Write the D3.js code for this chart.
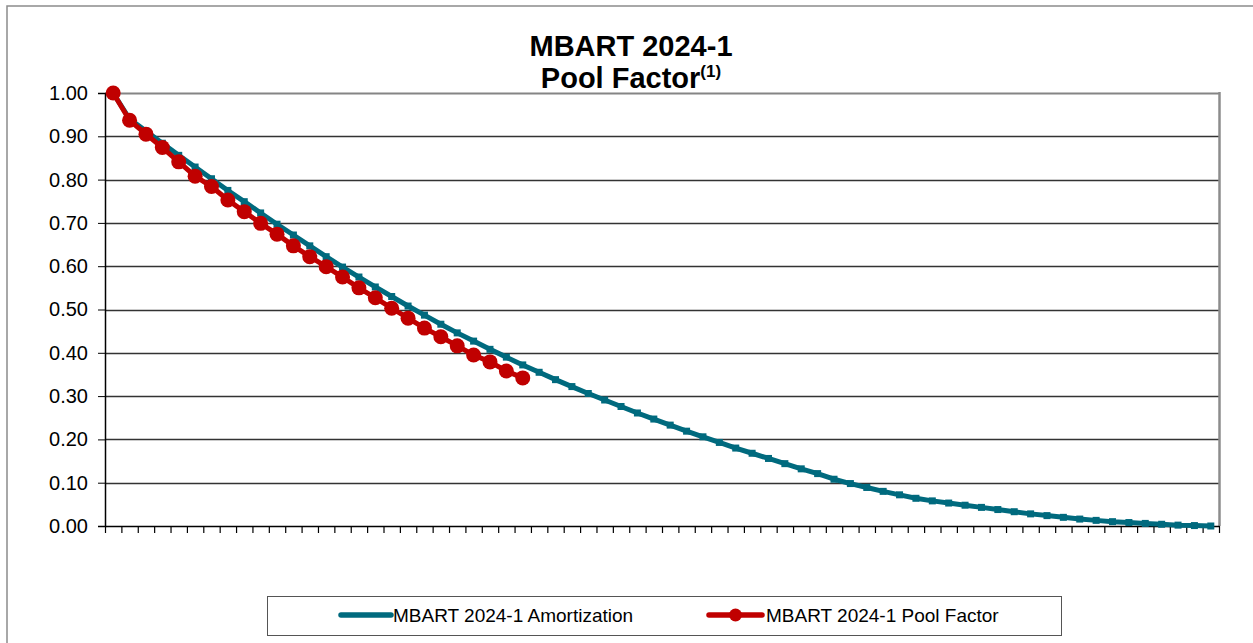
<!DOCTYPE html>
<html>
<head>
<meta charset="utf-8">
<script src="https://cdn.jsdelivr.net/npm/d3@7"></script>
<style>
  html, body { margin: 0; padding: 0; background: #fff; }
  svg { display: block; font-family: "Liberation Sans", Arial, sans-serif; }
</style>
</head>
<body>
<svg id="chart" width="1253" height="643"></svg>
<script>
// ---- data ----
const titleLine1 = "MBART 2024-1";
const titleLine2 = "Pool Factor";
const titleSup = "(1)";
const seriesNames = ["MBART 2024-1 Amortization", "MBART 2024-1 Pool Factor"];
const yTicks = [0, 0.1, 0.2, 0.3, 0.4, 0.5, 0.6, 0.7, 0.8, 0.9, 1.0];
const amortization = [
  1.000, 0.940, 0.912, 0.884, 0.856, 0.829, 0.802, 0.775, 0.749, 0.723,
  0.697, 0.672, 0.647, 0.622, 0.598, 0.575, 0.552, 0.530, 0.508, 0.487,
  0.466, 0.446, 0.427, 0.408, 0.390, 0.372, 0.355, 0.338, 0.322, 0.306,
  0.291, 0.276, 0.261, 0.247, 0.233, 0.219, 0.206, 0.193, 0.180, 0.168,
  0.156, 0.144, 0.132, 0.121, 0.108, 0.098, 0.089, 0.080, 0.072, 0.064,
  0.058, 0.053, 0.048, 0.043, 0.038, 0.033, 0.028, 0.024, 0.020, 0.016,
  0.013, 0.010, 0.008, 0.006, 0.004, 0.002, 0.001, 0.000
];
const poolFactor = [
  1.000, 0.937, 0.905, 0.874, 0.841, 0.808, 0.784, 0.753, 0.726, 0.699,
  0.674, 0.647, 0.622, 0.599, 0.575, 0.550, 0.527, 0.503, 0.480, 0.457,
  0.437, 0.416, 0.395, 0.379, 0.358, 0.342
];
const categories = d3.range(amortization.length).map(i => i + 1);

// ---- layout ----
const svg = d3.select("#chart");
const plot = { left: 105, right: 1219, top: 93, bottom: 526 };
const teal = "#006A7E";
const red = "#C00000";

// outer border
svg.append("rect").attr("x", 7).attr("y", 6).attr("width", 1260).attr("height", 660)
  .attr("fill", "none").attr("stroke", "#8c8c8c").attr("stroke-width", 1.5);

const x = d3.scaleBand().domain(categories).range([plot.left, plot.right]).padding(0);
const y = d3.scaleLinear().domain([0, 1]).range([plot.bottom, plot.top]);
const cx = i => x(categories[i]) + x.bandwidth() / 2;

// gridlines
svg.append("g").selectAll("line").data(yTicks.filter(t => t > 0)).join("line")
  .attr("x1", plot.left).attr("x2", plot.right)
  .attr("y1", d => Math.round(y(d)) + 0.5).attr("y2", d => Math.round(y(d)) + 0.5)
  .attr("stroke", "#333").attr("stroke-width", d => d === 1 ? 2 : 1.4)
  .attr("stroke-opacity", d => d === 1 ? 0.6 : 1);

// right border of plot
svg.append("line").attr("x1", plot.right + 0.5).attr("x2", plot.right + 0.5)
  .attr("y1", plot.top - 1).attr("y2", plot.bottom)
  .attr("stroke", "#8c8c8c").attr("stroke-width", 2.5);

// y axis
const yAxis = d3.axisLeft(y).tickValues(yTicks).tickFormat(d3.format(".2f")).tickSize(7).tickPadding(10);
const gy = svg.append("g").attr("transform", `translate(${plot.left},0)`).call(yAxis);
gy.select(".domain").attr("stroke", "#000").attr("stroke-width", 1.5);
gy.selectAll(".tick line").attr("stroke", "#000");
gy.selectAll(".tick text").attr("font-size", 20).attr("fill", "#000")
  .attr("font-family", "Liberation Sans, Arial, sans-serif");

// x axis (ticks between categories)
const xBoundaries = d3.range(categories.length + 1).map(i => plot.left + i * x.bandwidth());
const xEdge = d3.scaleLinear().domain([plot.left, plot.right]).range([plot.left, plot.right]);
const xAxis = d3.axisBottom(xEdge).tickValues(xBoundaries).tickFormat("").tickSize(7).tickSizeOuter(0);
const gx = svg.append("g").attr("transform", `translate(0,${plot.bottom})`).call(xAxis);
gx.select(".domain").attr("stroke", "#000").attr("stroke-width", 1.5);
gx.selectAll(".tick line").attr("stroke", "#000").attr("stroke-width", 1.2);

// amortization line
const line = d3.line().x((d, i) => cx(i)).y(d => y(d));
svg.append("path").datum(amortization).attr("d", line)
  .attr("fill", "none").attr("stroke", teal).attr("stroke-width", 5).attr("stroke-linejoin", "round");
svg.append("g").selectAll("rect").data(amortization).join("rect")
  .attr("x", (d, i) => cx(i) - 3.5).attr("y", d => y(d) - 3.5)
  .attr("width", 7).attr("height", 7).attr("fill", teal);

// pool factor line
svg.append("path").datum(poolFactor).attr("d", line)
  .attr("fill", "none").attr("stroke", red).attr("stroke-width", 5).attr("stroke-linejoin", "round");
svg.append("g").selectAll("circle").data(poolFactor).join("circle")
  .attr("cx", (d, i) => cx(i)).attr("cy", d => y(d)).attr("r", 7.5).attr("fill", red);

// title
svg.append("text").attr("text-anchor", "middle").attr("font-weight", "bold").attr("fill", "#000")
  .attr("x", 631).attr("y", 56).attr("font-size", 29).text(titleLine1);
const t2 = svg.append("text").attr("text-anchor", "middle").attr("font-weight", "bold").attr("fill", "#000")
  .attr("x", 631).attr("y", 88);
t2.append("tspan").attr("font-size", 29).text(titleLine2);
t2.append("tspan").attr("font-size", 17).attr("dy", -11).text(titleSup);

// legend
const lg = svg.append("g");
lg.append("rect").attr("x", 267.5).attr("y", 596.5).attr("width", 794).attr("height", 39)
  .attr("fill", "#fff").attr("stroke", "#555").attr("stroke-width", 1);
const legendItems = [
  { name: seriesNames[0], color: teal, x1: 341, x2: 391, marker: false, tx: 393 },
  { name: seriesNames[1], color: red, x1: 709, x2: 762, marker: true, tx: 766 }
];
legendItems.forEach(it => {
  lg.append("line").attr("x1", it.x1).attr("x2", it.x2).attr("y1", 615).attr("y2", 615)
    .attr("stroke", it.color).attr("stroke-width", 5.5).attr("stroke-linecap", "round");
  if (it.marker) lg.append("circle").attr("cx", (it.x1 + it.x2) / 2).attr("cy", 615).attr("r", 6.5).attr("fill", it.color);
  lg.append("text").attr("x", it.tx).attr("y", 622).attr("font-size", 19).attr("fill", "#000").text(it.name);
});
</script>
</body>
</html>
